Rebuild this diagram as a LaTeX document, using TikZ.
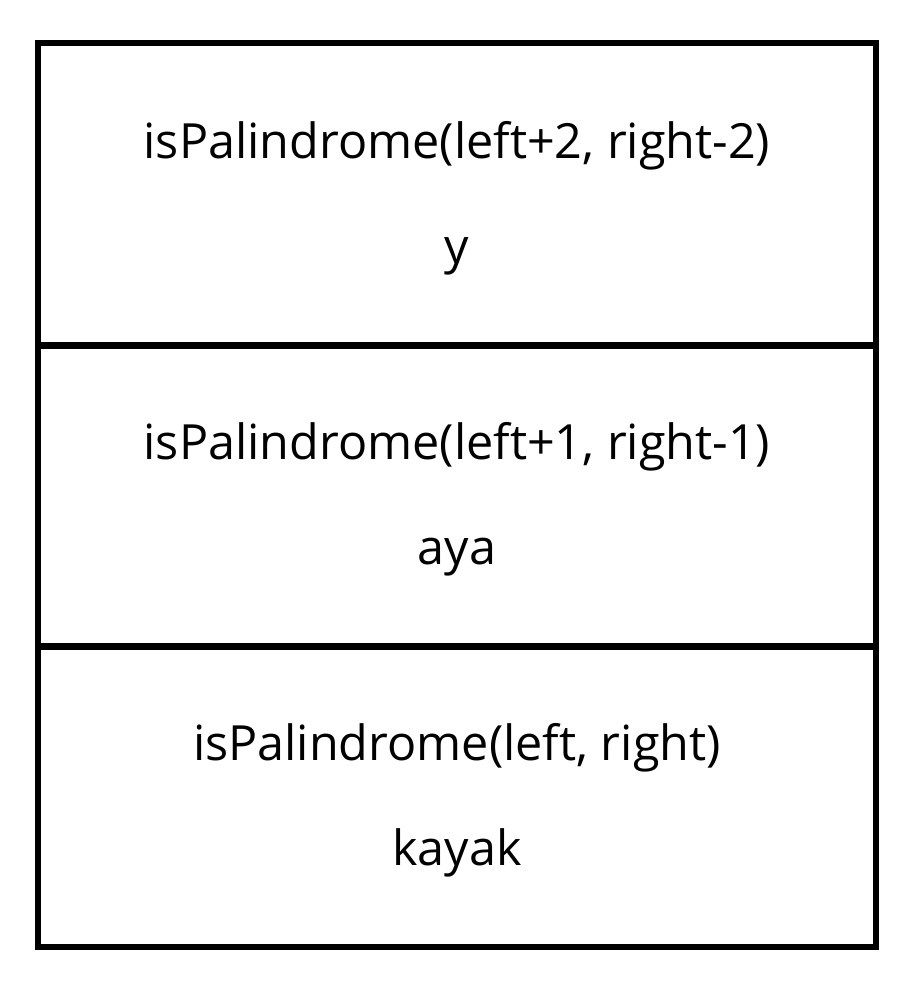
\documentclass[tikz,border=0pt]{standalone}
\usepackage{fontspec}
\setmainfont{Open Sans}
\begin{document}
\begin{tikzpicture}[x=1pt,y=-1pt,
  frame/.style={line width=6.5pt, line cap=rect},
  lbl/.style={anchor=base, inner sep=0pt, font=\fontsize{48.5}{52}\selectfont}]
\useasboundingbox (0,0) rectangle (919,1001);
\draw[frame] (38,43) rectangle (876,947);
\coordinate (d1l) at (38,345.5);
\coordinate (d1r) at (876,345.5);
\coordinate (d2l) at (38,646.5);
\coordinate (d2r) at (876,646.5);
\draw[frame] (d1l) -- (d1r);
\draw[frame] (d2l) -- (d2r);
\node[lbl] (f1) at (457,158) {isPalindrome(left+2, right-2)};
\node[lbl] (s1) at (457,263) {y};
\node[lbl] (f2) at (457,459) {isPalindrome(left+1, right-1)};
\node[lbl] (s2) at (457,564) {aya};
\node[lbl] (f3) at (457,760) {isPalindrome(left, right)};
\node[lbl] (s3) at (457,865) {kayak};
\end{tikzpicture}
\end{document}
